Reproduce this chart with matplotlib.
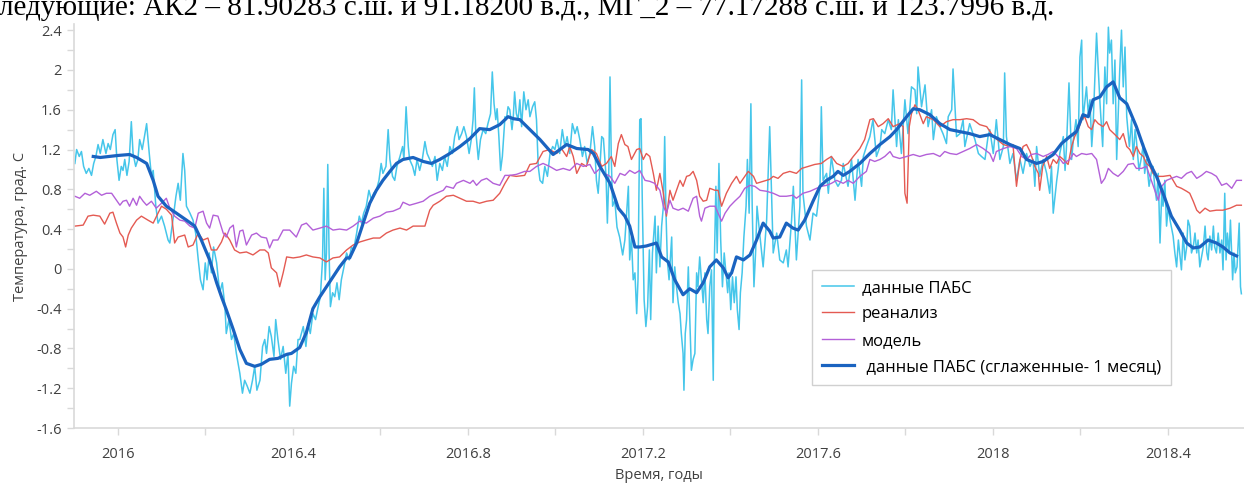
import matplotlib
matplotlib.use("Agg")
import matplotlib.pyplot as plt
from matplotlib.ticker import MultipleLocator, FuncFormatter

plt.rcParams['font.family'] = ['Open Sans', 'DejaVu Sans']
plt.rcParams['axes.unicode_minus'] = False

# (year, temperature)
pabs = [
    (2015.902, 1.06), (2015.906, 1.20), (2015.912, 1.13), (2015.917, 1.18), (2015.922, 1.03), (2015.928, 0.96),
    (2015.934, 1.01), (2015.940, 0.94), (2015.945, 1.06), (2015.950, 1.13), (2015.955, 1.25), (2015.960, 1.16),
    (2015.966, 1.30), (2015.973, 1.16), (2015.978, 1.26), (2015.983, 1.20), (2015.989, 1.35), (2015.994, 1.40),
    (2015.998, 1.10), (2016.003, 0.89), (2016.008, 1.03), (2016.012, 0.99), (2016.016, 1.10), (2016.021, 0.94),
    (2016.026, 1.08), (2016.031, 1.48), (2016.035, 1.16), (2016.041, 1.03), (2016.046, 1.10), (2016.050, 1.30),
    (2016.056, 1.20), (2016.062, 1.36), (2016.066, 1.46), (2016.072, 1.16), (2016.077, 0.93), (2016.081, 0.99),
    (2016.087, 0.63), (2016.092, 0.46), (2016.100, 0.53), (2016.107, 0.43), (2016.111, 0.36), (2016.115, 0.29),
    (2016.119, 0.26), (2016.126, 0.49), (2016.133, 0.73), (2016.138, 0.86), (2016.143, 0.69), (2016.149, 1.16),
    (2016.153, 0.99), (2016.157, 0.63), (2016.165, 0.56), (2016.172, 0.49), (2016.178, 0.36), (2016.184, 0.09),
    (2016.189, -0.11), (2016.195, -0.21), (2016.200, 0.06), (2016.204, -0.11), (2016.209, 0.16), (2016.214, -0.04),
    (2016.219, 0.22), (2016.226, 0.06), (2016.233, -0.24), (2016.239, -0.14), (2016.245, -0.38), (2016.248, -0.65),
    (2016.254, -0.51), (2016.260, -0.71), (2016.265, -0.65), (2016.271, -0.85), (2016.279, -1.05), (2016.285, -1.25),
    (2016.290, -1.12), (2016.296, -1.18), (2016.302, -1.25), (2016.308, -1.12), (2016.313, -0.98), (2016.318, -1.22),
    (2016.325, -1.12), (2016.331, -0.78), (2016.336, -0.71), (2016.340, -0.85), (2016.346, -0.58), (2016.351, -0.68),
    (2016.357, -0.88), (2016.361, -0.51), (2016.366, -0.71), (2016.372, -0.91), (2016.378, -0.78), (2016.384, -1.05),
    (2016.389, -0.85), (2016.393, -1.38), (2016.397, -1.15), (2016.402, -0.98), (2016.407, -1.05), (2016.412, -0.71),
    (2016.416, -0.71), (2016.424, -0.58), (2016.430, -0.78), (2016.435, -0.55), (2016.440, -0.65), (2016.446, -0.45),
    (2016.452, -0.51), (2016.458, -0.38), (2016.463, -0.28), (2016.468, 0.09), (2016.471, 0.81), (2016.474, -0.11),
    (2016.477, 0.16), (2016.480, 1.05), (2016.483, 0.16), (2016.486, -0.38), (2016.491, -0.24), (2016.496, -0.28),
    (2016.501, -0.14), (2016.506, -0.31), (2016.511, -0.11), (2016.517, 0.02), (2016.523, 0.16), (2016.529, 0.09),
    (2016.534, 0.22), (2016.539, 0.19), (2016.546, 0.36), (2016.552, 0.53), (2016.557, 0.46), (2016.562, 0.56),
    (2016.568, 0.63), (2016.574, 0.79), (2016.580, 0.69), (2016.585, 0.76), (2016.591, 0.79), (2016.597, 0.89),
    (2016.602, 1.06), (2016.606, 0.96), (2016.613, 1.03), (2016.618, 1.40), (2016.622, 1.10), (2016.628, 0.93),
    (2016.633, 0.89), (2016.638, 1.03), (2016.645, 1.13), (2016.651, 1.23), (2016.654, 1.10), (2016.659, 1.63),
    (2016.664, 1.23), (2016.667, 1.10), (2016.674, 1.03), (2016.679, 0.94), (2016.684, 1.10), (2016.690, 0.99),
    (2016.696, 1.10), (2016.702, 1.28), (2016.707, 1.16), (2016.713, 1.10), (2016.719, 1.03), (2016.725, 1.13),
    (2016.730, 0.89), (2016.736, 1.06), (2016.742, 0.99), (2016.747, 1.13), (2016.753, 1.03), (2016.759, 1.23),
    (2016.765, 1.16), (2016.770, 1.33), (2016.776, 1.43), (2016.780, 1.30), (2016.786, 1.36), (2016.791, 1.43),
    (2016.797, 1.33), (2016.803, 1.16), (2016.808, 1.30), (2016.812, 1.50), (2016.815, 1.82), (2016.818, 1.40),
    (2016.824, 1.10), (2016.829, 1.30), (2016.835, 1.40), (2016.841, 1.36), (2016.846, 1.46), (2016.852, 1.56),
    (2016.856, 1.98), (2016.860, 1.66), (2016.864, 1.50), (2016.867, 1.61), (2016.871, 1.33), (2016.875, 0.99),
    (2016.879, 1.13), (2016.885, 1.53), (2016.888, 1.50), (2016.892, 1.63), (2016.896, 1.60), (2016.901, 1.40),
    (2016.904, 1.53), (2016.907, 1.78), (2016.911, 1.56), (2016.915, 1.50), (2016.919, 1.70), (2016.923, 1.43),
    (2016.928, 1.78), (2016.933, 1.60), (2016.938, 1.70),
    (2016.942, 1.53), (2016.948, 1.63), (2016.953, 1.68), (2016.957, 1.50), (2016.961, 1.03), (2016.965, 0.89),
    (2016.971, 0.86), (2016.976, 1.03), (2016.982, 0.93), (2016.988, 1.16), (2016.994, 1.23), (2016.999, 1.20),
    (2017.004, 1.30), (2017.010, 1.16), (2017.016, 1.40), (2017.022, 1.23), (2017.027, 1.33), (2017.033, 1.16),
    (2017.039, 1.46), (2017.045, 1.36), (2017.050, 1.43), (2017.056, 1.30), (2017.062, 1.13), (2017.067, 1.23),
    (2017.073, 1.06), (2017.079, 1.16), (2017.085, 1.43), (2017.090, 1.23), (2017.094, 0.89), (2017.098, 0.76),
    (2017.102, 1.03), (2017.106, 1.33), (2017.110, 1.31), (2017.116, 0.93), (2017.119, 0.46), (2017.122, 0.89),
    (2017.125, 1.93), (2017.128, 1.10), (2017.131, 0.63), (2017.136, 0.69), (2017.141, 0.42), (2017.147, 0.32),
    (2017.154, 0.14), (2017.159, 0.29), (2017.164, 0.63), (2017.167, 0.83), (2017.170, 0.09), (2017.174, 0.32),
    (2017.178, -0.11), (2017.182, -0.04), (2017.186, -0.45), (2017.189, -0.11), (2017.193, 1.50), (2017.196, 1.51),
    (2017.199, 0.63), (2017.203, -0.31), (2017.207, -0.58), (2017.211, -0.38), (2017.215, 0.19), (2017.218, -0.51),
    (2017.222, 0.16), (2017.228, 0.53), (2017.231, -0.04), (2017.235, 0.43), (2017.239, 0.02), (2017.243, 0.43),
    (2017.247, 0.63), (2017.250, 1.33), (2017.253, 0.56), (2017.256, 0.09), (2017.260, -0.11), (2017.266, 0.32),
    (2017.269, -0.34), (2017.273, 0.02), (2017.277, -0.18), (2017.281, -0.34), (2017.285, -0.45), (2017.288, -0.65),
    (2017.292, -0.85), (2017.294, -1.22), (2017.297, -0.65), (2017.300, -0.51), (2017.304, 0.02), (2017.307, -0.45),
    (2017.311, -1.02), (2017.315, -0.91), (2017.319, -0.85), (2017.323, -0.04), (2017.326, -0.18), (2017.330, 0.12),
    (2017.334, -0.11), (2017.338, -0.34), (2017.342, -0.04), (2017.346, -0.51), (2017.349, -0.65), (2017.353, -0.18),
    (2017.357, -0.01), (2017.361, -1.12), (2017.363, -0.04), (2017.367, 0.83), (2017.370, 0.16), (2017.374, 1.06),
    (2017.378, 0.29), (2017.382, -0.18), (2017.386, 0.16), (2017.390, -0.04), (2017.394, -0.24), (2017.397, -0.04),
    (2017.401, -0.41), (2017.405, -0.08), (2017.409, -0.34), (2017.413, -0.08), (2017.416, -0.41), (2017.420, -0.61),
    (2017.423, -0.24), (2017.427, -0.04), (2017.431, 0.32), (2017.436, 0.63), (2017.439, 1.10), (2017.443, 0.56),
    (2017.447, 1.66), (2017.450, 0.63), (2017.454, -0.18), (2017.458, 0.19), (2017.461, 0.63),
    (2017.467, 0.36), (2017.475, 0.02), (2017.483, 0.49), (2017.490, 1.43), (2017.498, 0.16), (2017.506, 0.36),
    (2017.513, 0.09), (2017.521, 0.06), (2017.528, 0.19), (2017.532, 0.02), (2017.540, 0.49), (2017.544, 0.83),
    (2017.551, 0.09), (2017.559, 0.63), (2017.563, 1.90), (2017.566, 0.76), (2017.574, 0.43), (2017.582, 0.29),
    (2017.589, 0.56), (2017.597, 0.53), (2017.605, 0.83), (2017.608, 1.63), (2017.612, 0.89), (2017.620, 0.96),
    (2017.624, 0.76), (2017.631, 1.13), (2017.639, 0.89), (2017.646, 0.83), (2017.654, 0.89), (2017.658, 1.06),
    (2017.669, 0.83), (2017.677, 1.10), (2017.685, 0.69), (2017.692, 1.10), (2017.700, 0.83), (2017.704, 1.13),
    (2017.711, 1.23), (2017.719, 1.33), (2017.726, 1.50), (2017.734, 1.13), (2017.742, 1.23), (2017.746, 1.40),
    (2017.753, 1.36), (2017.761, 1.50), (2017.768, 1.40), (2017.772, 1.80), (2017.780, 1.23), (2017.784, 1.50),
    (2017.791, 1.16), (2017.799, 1.70), (2017.806, 1.36), (2017.814, 1.83), (2017.822, 1.80), (2017.826, 1.56),
    (2017.829, 2.03), (2017.837, 1.63), (2017.845, 1.85), (2017.852, 1.43), (2017.860, 1.60), (2017.864, 1.30),
    (2017.871, 1.53), (2017.879, 1.43), (2017.886, 1.36), (2017.894, 1.26), (2017.898, 1.53), (2017.906, 1.60),
    (2017.909, 2.01), (2017.917, 1.33), (2017.925, 1.36), (2017.932, 1.50), (2017.936, 1.23), (2017.947, 1.46),
    (2017.959, 1.30), (2017.967, 1.16), (2017.974, 1.13), (2017.982, 1.10), (2017.989, 1.33),
    (2017.993, 1.40), (2018.001, 1.16), (2018.008, 1.50), (2018.016, 1.10), (2018.024, 1.23), (2018.027, 1.97),
    (2018.031, 1.33), (2018.039, 1.06), (2018.046, 1.16), (2018.054, 0.89), (2018.062, 1.10), (2018.069, 0.96),
    (2018.077, 1.16), (2018.085, 1.03), (2018.092, 1.10), (2018.096, 0.83), (2018.100, 1.23), (2018.107, 0.93),
    (2018.115, 1.10), (2018.123, 0.96), (2018.130, 0.76), (2018.134, 1.03), (2018.138, 0.56), (2018.146, 0.89),
    (2018.149, 0.99), (2018.153, 1.16), (2018.161, 1.33), (2018.165, 0.99), (2018.168, 1.20), (2018.174, 1.87),
    (2018.180, 1.10), (2018.184, 1.30), (2018.190, 1.50), (2018.195, 1.23), (2018.199, 2.13), (2018.203, 2.30),
    (2018.206, 1.50), (2018.214, 1.83), (2018.218, 1.56), (2018.222, 1.70), (2018.226, 1.23), (2018.229, 1.43),
    (2018.237, 2.37), (2018.241, 2.00), (2018.245, 1.66), (2018.251, 1.23), (2018.256, 2.03), (2018.260, 1.66),
    (2018.264, 2.43), (2018.267, 2.17), (2018.271, 2.30), (2018.275, 1.66), (2018.279, 2.10), (2018.283, 1.10),
    (2018.286, 1.50), (2018.290, 2.00), (2018.294, 2.40), (2018.298, 1.83), (2018.302, 2.23), (2018.306, 1.53),
    (2018.312, 1.23), (2018.317, 1.50), (2018.321, 1.10), (2018.325, 1.40), (2018.328, 1.30), (2018.334, 0.99),
    (2018.340, 1.13), (2018.344, 1.26), (2018.347, 0.96), (2018.351, 1.10), (2018.357, 0.83), (2018.363, 0.99),
    (2018.366, 1.03), (2018.370, 0.83), (2018.374, 0.69), (2018.378, 0.96), (2018.382, 0.26), (2018.386, 0.76),
    (2018.389, 0.63), (2018.393, 0.89), (2018.397, 0.43), (2018.401, 0.63), (2018.405, 0.49), (2018.412, 0.33),
    (2018.416, 0.16), (2018.420, 0.02), (2018.424, 0.29), (2018.427, 0.16), (2018.431, -0.01), (2018.435, 0.36),
    (2018.439, 0.09), (2018.443, 0.22), (2018.446, 0.49), (2018.450, 0.43), (2018.454, 0.16), (2018.458, 0.22),
    (2018.462, 0.36), (2018.466, 0.16), (2018.469, 0.29), (2018.473, 0.02), (2018.481, 0.22), (2018.485, 0.43),
    (2018.489, 0.16), (2018.492, 0.09), (2018.496, 0.33), (2018.500, 0.19), (2018.504, 0.43), (2018.507, 0.22),
    (2018.511, 0.16), (2018.515, 0.36), (2018.519, 0.16), (2018.523, 0.29), (2018.526, -0.01), (2018.530, 0.76),
    (2018.533, 0.09), (2018.536, 0.36), (2018.540, 0.16), (2018.543, 0.49), (2018.548, -0.11), (2018.551, 0.16),
    (2018.554, -0.04), (2018.558, 0.02), (2018.563, 0.46), (2018.566, -0.18), (2018.568, -0.25),
]

reanalysis = [
    (2015.902, 0.43), (2015.921, 0.44), (2015.932, 0.53), (2015.944, 0.54), (2015.959, 0.53), (2015.970, 0.45),
    (2015.982, 0.56), (2015.989, 0.57), (2015.997, 0.46), (2016.005, 0.36), (2016.012, 0.32), (2016.018, 0.22),
    (2016.024, 0.34), (2016.031, 0.41), (2016.043, 0.49), (2016.054, 0.53), (2016.069, 0.49), (2016.081, 0.46),
    (2016.092, 0.56), (2016.100, 0.63), (2016.111, 0.60), (2016.123, 0.54), (2016.130, 0.26), (2016.138, 0.32),
    (2016.153, 0.34), (2016.161, 0.22), (2016.172, 0.24), (2016.184, 0.36), (2016.195, 0.29), (2016.206, 0.31),
    (2016.214, 0.19), (2016.226, 0.19), (2016.237, 0.27), (2016.245, 0.36), (2016.256, 0.29), (2016.267, 0.19),
    (2016.279, 0.16), (2016.294, 0.17), (2016.309, 0.14), (2016.325, 0.19), (2016.336, 0.19), (2016.344, 0.16),
    (2016.351, 0.01), (2016.363, -0.04), (2016.370, -0.18), (2016.378, -0.04), (2016.386, 0.12), (2016.401, 0.11),
    (2016.416, 0.12), (2016.431, 0.14), (2016.446, 0.12), (2016.462, 0.11), (2016.477, 0.07), (2016.492, 0.11),
    (2016.507, 0.12), (2016.523, 0.19), (2016.538, 0.24), (2016.553, 0.27), (2016.568, 0.29), (2016.584, 0.31),
    (2016.599, 0.31), (2016.614, 0.36), (2016.629, 0.39), (2016.645, 0.41), (2016.660, 0.39), (2016.675, 0.43),
    (2016.690, 0.43), (2016.702, 0.43), (2016.713, 0.59), (2016.721, 0.64), (2016.736, 0.68), (2016.751, 0.73),
    (2016.767, 0.74), (2016.782, 0.71), (2016.797, 0.68), (2016.812, 0.68), (2016.827, 0.66), (2016.843, 0.68),
    (2016.858, 0.69), (2016.873, 0.76), (2016.885, 0.86), (2016.896, 0.94), (2016.911, 0.93), (2016.930, 0.94),
    (2016.942, 1.05), (2016.957, 1.06), (2016.972, 1.18), (2016.987, 1.20), (2017.003, 1.16), (2017.014, 1.21),
    (2017.026, 1.13), (2017.033, 1.23), (2017.041, 1.13), (2017.049, 0.96), (2017.060, 1.06), (2017.071, 1.03),
    (2017.083, 1.20), (2017.094, 1.16), (2017.106, 1.03), (2017.117, 1.06), (2017.128, 1.13), (2017.136, 1.03),
    (2017.144, 1.26), (2017.151, 1.35), (2017.159, 1.25), (2017.166, 1.23), (2017.174, 1.10), (2017.186, 1.20),
    (2017.193, 1.21), (2017.201, 1.10), (2017.208, 1.16), (2017.216, 1.13), (2017.224, 0.96), (2017.231, 0.79),
    (2017.239, 0.96), (2017.247, 0.76), (2017.254, 0.53), (2017.262, 0.79), (2017.269, 0.69), (2017.277, 0.79),
    (2017.285, 0.89), (2017.292, 0.83), (2017.300, 0.93), (2017.307, 0.94), (2017.315, 0.98), (2017.323, 0.89),
    (2017.330, 0.73), (2017.338, 0.68), (2017.346, 0.69), (2017.353, 0.81), (2017.365, 0.79), (2017.372, 0.79),
    (2017.380, 0.63), (2017.391, 0.76), (2017.403, 0.86), (2017.414, 0.93), (2017.422, 0.86), (2017.430, 0.91),
    (2017.441, 0.98), (2017.453, 0.93), (2017.460, 0.86), (2017.475, 0.88), (2017.490, 0.90),
    (2017.498, 0.93), (2017.509, 0.91), (2017.521, 0.96), (2017.536, 0.98), (2017.551, 0.96), (2017.563, 1.01),
    (2017.578, 1.03), (2017.593, 1.05), (2017.608, 1.06), (2017.620, 1.10), (2017.631, 1.13), (2017.643, 1.06),
    (2017.658, 1.03), (2017.669, 1.06), (2017.681, 1.13), (2017.696, 1.21), (2017.707, 1.30), (2017.719, 1.50),
    (2017.727, 1.51), (2017.738, 1.43), (2017.749, 1.46), (2017.761, 1.51), (2017.772, 1.43), (2017.787, 1.46),
    (2017.795, 1.43), (2017.799, 0.76), (2017.804, 0.66), (2017.809, 1.43), (2017.814, 1.56), (2017.822, 1.65),
    (2017.829, 1.60), (2017.841, 1.46), (2017.848, 1.53), (2017.864, 1.50), (2017.879, 1.43), (2017.894, 1.48),
    (2017.909, 1.50), (2017.925, 1.50), (2017.940, 1.51), (2017.955, 1.50), (2017.970, 1.45), (2017.986, 1.43),
    (2018.001, 1.33), (2018.024, 1.25), (2018.039, 1.23), (2018.046, 1.25), (2018.054, 0.83), (2018.062, 1.10),
    (2018.069, 1.23), (2018.077, 1.25), (2018.085, 1.18), (2018.096, 1.03), (2018.104, 0.96), (2018.107, 0.79),
    (2018.114, 1.03), (2018.123, 1.13), (2018.130, 1.01), (2018.138, 1.10), (2018.146, 1.06), (2018.153, 1.13),
    (2018.161, 1.10), (2018.172, 1.05), (2018.180, 1.23), (2018.187, 1.33), (2018.195, 1.40), (2018.203, 1.50),
    (2018.210, 1.53), (2018.218, 1.43), (2018.226, 1.40), (2018.233, 1.50), (2018.241, 1.46), (2018.252, 1.43),
    (2018.260, 1.48), (2018.267, 1.40), (2018.279, 1.35), (2018.290, 1.30), (2018.298, 1.36), (2018.306, 1.23),
    (2018.313, 1.20), (2018.321, 1.13), (2018.328, 1.23), (2018.336, 1.16), (2018.344, 1.13), (2018.351, 1.06),
    (2018.359, 1.03), (2018.366, 0.96), (2018.374, 0.93), (2018.389, 0.93), (2018.405, 0.94), (2018.412, 0.89),
    (2018.420, 0.83), (2018.431, 0.81), (2018.443, 0.78), (2018.450, 0.76), (2018.458, 0.68), (2018.466, 0.59),
    (2018.473, 0.56), (2018.485, 0.61), (2018.496, 0.58), (2018.511, 0.59), (2018.526, 0.59), (2018.542, 0.61),
    (2018.557, 0.64), (2018.568, 0.64),
]

model = [
    (2015.902, 0.73), (2015.913, 0.71), (2015.925, 0.76), (2015.936, 0.74), (2015.951, 0.78), (2015.963, 0.74),
    (2015.974, 0.76), (2015.986, 0.76), (2015.997, 0.69), (2016.005, 0.64), (2016.012, 0.68), (2016.020, 0.69),
    (2016.027, 0.63), (2016.035, 0.71), (2016.043, 0.64), (2016.050, 0.73), (2016.058, 0.68), (2016.066, 0.64),
    (2016.077, 0.68), (2016.088, 0.61), (2016.100, 0.66), (2016.111, 0.71), (2016.119, 0.61), (2016.130, 0.53),
    (2016.142, 0.49), (2016.153, 0.48), (2016.165, 0.43), (2016.176, 0.41), (2016.184, 0.56), (2016.195, 0.58),
    (2016.203, 0.46), (2016.210, 0.41), (2016.218, 0.54), (2016.229, 0.53), (2016.241, 0.36), (2016.248, 0.32),
    (2016.256, 0.41), (2016.264, 0.44), (2016.271, 0.22), (2016.279, 0.38), (2016.286, 0.39), (2016.294, 0.24),
    (2016.306, 0.34), (2016.317, 0.36), (2016.328, 0.32), (2016.340, 0.31), (2016.347, 0.21), (2016.355, 0.29),
    (2016.366, 0.29), (2016.378, 0.39), (2016.393, 0.39), (2016.408, 0.32), (2016.420, 0.44), (2016.431, 0.46),
    (2016.446, 0.39), (2016.462, 0.41), (2016.477, 0.43), (2016.492, 0.39), (2016.507, 0.40), (2016.523, 0.39),
    (2016.538, 0.43), (2016.553, 0.48), (2016.568, 0.46), (2016.584, 0.51), (2016.599, 0.53), (2016.614, 0.57),
    (2016.629, 0.58), (2016.645, 0.61), (2016.652, 0.67), (2016.667, 0.64), (2016.683, 0.66), (2016.698, 0.68),
    (2016.713, 0.73), (2016.728, 0.76), (2016.744, 0.79), (2016.751, 0.83), (2016.767, 0.81), (2016.774, 0.86),
    (2016.790, 0.89), (2016.805, 0.86), (2016.812, 0.89), (2016.820, 0.84), (2016.831, 0.89), (2016.843, 0.91),
    (2016.858, 0.86), (2016.873, 0.84), (2016.885, 0.94), (2016.896, 0.94), (2016.911, 0.95), (2016.930, 0.98),
    (2016.942, 0.98), (2016.957, 1.03), (2016.972, 1.06), (2016.987, 1.03), (2017.003, 0.99), (2017.018, 1.01),
    (2017.033, 0.99), (2017.049, 1.06), (2017.064, 1.03), (2017.079, 1.05), (2017.090, 0.96), (2017.102, 1.01),
    (2017.113, 0.96), (2017.125, 0.93), (2017.136, 0.86), (2017.148, 0.96), (2017.159, 0.94), (2017.170, 0.99),
    (2017.182, 0.96), (2017.193, 0.99), (2017.205, 0.89), (2017.216, 0.88), (2017.227, 0.86), (2017.239, 0.79),
    (2017.247, 0.63), (2017.254, 0.56), (2017.262, 0.69), (2017.269, 0.61), (2017.281, 0.59), (2017.292, 0.61),
    (2017.304, 0.58), (2017.315, 0.71), (2017.323, 0.73), (2017.330, 0.53), (2017.334, 0.48), (2017.342, 0.61),
    (2017.353, 0.63), (2017.365, 0.63), (2017.372, 0.56), (2017.380, 0.48), (2017.388, 0.56), (2017.399, 0.63),
    (2017.410, 0.68), (2017.422, 0.73), (2017.433, 0.81), (2017.445, 0.84), (2017.456, 0.83), (2017.468, 0.79),
    (2017.483, 0.78), (2017.498, 0.76), (2017.513, 0.73), (2017.528, 0.73), (2017.543, 0.74), (2017.551, 0.71),
    (2017.566, 0.76), (2017.582, 0.78), (2017.597, 0.81), (2017.608, 0.83), (2017.620, 0.84), (2017.631, 0.86),
    (2017.643, 0.89), (2017.658, 0.86), (2017.669, 0.89), (2017.681, 0.86), (2017.696, 0.93), (2017.711, 0.98),
    (2017.719, 1.10), (2017.730, 1.08), (2017.742, 1.10), (2017.753, 1.13), (2017.765, 1.18), (2017.772, 1.13),
    (2017.787, 1.11), (2017.803, 1.13), (2017.818, 1.15), (2017.833, 1.13), (2017.848, 1.15), (2017.864, 1.16),
    (2017.879, 1.13), (2017.890, 1.18), (2017.902, 1.16), (2017.917, 1.15), (2017.932, 1.18), (2017.947, 1.21),
    (2017.963, 1.25), (2017.978, 1.21), (2017.993, 1.16), (2018.001, 1.08), (2018.008, 1.18), (2018.024, 1.21),
    (2018.039, 1.23), (2018.054, 1.21), (2018.066, 1.13), (2018.077, 1.10), (2018.088, 1.15), (2018.100, 1.16),
    (2018.115, 1.13), (2018.126, 1.15), (2018.138, 1.18), (2018.149, 1.13), (2018.161, 1.06), (2018.176, 1.10),
    (2018.184, 1.16), (2018.191, 1.13), (2018.203, 1.16), (2018.214, 1.15), (2018.226, 1.16), (2018.237, 1.10),
    (2018.248, 0.86), (2018.256, 0.91), (2018.264, 1.01), (2018.275, 0.96), (2018.286, 0.93), (2018.298, 0.98),
    (2018.309, 1.05), (2018.321, 1.06), (2018.328, 1.01), (2018.340, 1.01), (2018.351, 1.03), (2018.359, 0.93),
    (2018.370, 0.79), (2018.378, 0.69), (2018.386, 0.83), (2018.397, 0.89), (2018.408, 0.91), (2018.420, 0.93),
    (2018.431, 0.91), (2018.443, 0.96), (2018.454, 0.98), (2018.466, 0.91), (2018.477, 0.94), (2018.488, 0.98),
    (2018.500, 0.96), (2018.511, 0.93), (2018.523, 0.84), (2018.534, 0.86), (2018.546, 0.81), (2018.557, 0.89),
    (2018.568, 0.89),
]

pabs_smooth = [
    (2015.944, 1.13), (2015.960, 1.12), (2015.980, 1.13), (2016.000, 1.14), (2016.027, 1.15), (2016.043, 1.12),
    (2016.066, 1.06), (2016.081, 0.89), (2016.092, 0.73), (2016.111, 0.63), (2016.134, 0.56), (2016.157, 0.49),
    (2016.176, 0.43), (2016.191, 0.29), (2016.210, 0.09), (2016.226, -0.14), (2016.237, -0.28), (2016.248, -0.41),
    (2016.264, -0.61), (2016.279, -0.81), (2016.294, -0.95), (2016.313, -0.98), (2016.328, -0.96), (2016.347, -0.91),
    (2016.366, -0.90), (2016.386, -0.86), (2016.397, -0.85), (2016.416, -0.79), (2016.431, -0.64), (2016.446, -0.40),
    (2016.462, -0.28), (2016.477, -0.18), (2016.492, -0.08), (2016.507, 0.02), (2016.523, 0.11), (2016.530, 0.11),
    (2016.546, 0.26), (2016.561, 0.46), (2016.576, 0.66), (2016.591, 0.79), (2016.606, 0.89), (2016.622, 0.98),
    (2016.637, 1.06), (2016.652, 1.10), (2016.675, 1.12), (2016.698, 1.08), (2016.717, 1.06), (2016.736, 1.10),
    (2016.759, 1.16), (2016.782, 1.23), (2016.805, 1.31), (2016.827, 1.41), (2016.850, 1.40), (2016.873, 1.45),
    (2016.892, 1.53), (2016.904, 1.51), (2016.919, 1.50), (2016.942, 1.40), (2016.965, 1.30), (2016.995, 1.15),
    (2017.026, 1.25), (2017.049, 1.21), (2017.075, 1.20), (2017.087, 1.16), (2017.102, 1.03), (2017.125, 0.86),
    (2017.144, 0.61), (2017.159, 0.53), (2017.170, 0.43), (2017.182, 0.22), (2017.193, 0.22), (2017.208, 0.23),
    (2017.231, 0.26), (2017.243, 0.12), (2017.258, 0.07), (2017.273, -0.11), (2017.292, -0.26), (2017.307, -0.20),
    (2017.323, -0.24), (2017.338, -0.14), (2017.353, 0.02), (2017.368, 0.09), (2017.384, 0.01), (2017.395, -0.09),
    (2017.403, -0.04), (2017.414, 0.12), (2017.430, 0.09), (2017.445, 0.14), (2017.460, 0.29), (2017.475, 0.46),
    (2017.490, 0.38), (2017.498, 0.31), (2017.513, 0.32), (2017.528, 0.46), (2017.543, 0.41), (2017.555, 0.39),
    (2017.570, 0.49), (2017.589, 0.68), (2017.605, 0.83), (2017.620, 0.89), (2017.635, 0.93), (2017.646, 0.98),
    (2017.658, 0.94), (2017.673, 0.98), (2017.696, 1.06), (2017.719, 1.16), (2017.742, 1.25), (2017.765, 1.33),
    (2017.780, 1.40), (2017.803, 1.53), (2017.818, 1.61), (2017.833, 1.60), (2017.856, 1.55), (2017.879, 1.46),
    (2017.902, 1.40), (2017.925, 1.38), (2017.947, 1.36), (2017.970, 1.33), (2017.993, 1.35), (2018.016, 1.30),
    (2018.039, 1.25), (2018.062, 1.21), (2018.077, 1.10), (2018.100, 1.06), (2018.115, 1.08), (2018.138, 1.15),
    (2018.157, 1.26), (2018.176, 1.33), (2018.191, 1.38), (2018.206, 1.55), (2018.218, 1.53), (2018.229, 1.70),
    (2018.245, 1.73), (2018.260, 1.83), (2018.275, 1.88), (2018.290, 1.72), (2018.306, 1.66), (2018.328, 1.43),
    (2018.344, 1.23), (2018.359, 1.06), (2018.374, 0.93), (2018.389, 0.76), (2018.408, 0.53), (2018.427, 0.39),
    (2018.443, 0.26), (2018.458, 0.21), (2018.473, 0.22), (2018.492, 0.29), (2018.511, 0.26), (2018.526, 0.22),
    (2018.542, 0.16), (2018.557, 0.13),
]

series_labels = ['данные ПАБС', 'реанализ', 'модель', ' данные ПАБС (сглаженные- 1 месяц)']
series_colors = ['#45c6ea', '#e45a52', '#b360d8', '#1a63c0']

fig = plt.figure(figsize=(12.44, 4.83), dpi=100)
ax = fig.add_axes([74 / 1244, 55 / 483, 1170 / 1244, 403.8 / 483])

for data, lab, col, lw in zip([pabs, reanalysis, model, pabs_smooth], series_labels, series_colors,
                              [1.1, 1.0, 1.0, 2.3]):
    t, v = zip(*data)
    ax.plot(t, v, color=col, lw=lw, label=lab)

ax.set_xlim(2015.9, 2018.574)
ax.set_ylim(-1.6, 2.46)

ax.xaxis.set_major_locator(MultipleLocator(0.4))
ax.xaxis.set_minor_locator(MultipleLocator(0.2))
ax.yaxis.set_major_locator(MultipleLocator(0.4))
ax.yaxis.set_minor_locator(MultipleLocator(0.2))
fmt = FuncFormatter(lambda x, p: f'{x:g}')
ax.xaxis.set_major_formatter(fmt)
ax.yaxis.set_major_formatter(fmt)

for s in ['top', 'right']:
    ax.spines[s].set_visible(False)
for s in ['left', 'bottom']:
    ax.spines[s].set_color('#d9d9d9')
    ax.spines[s].set_linewidth(1.2)

ax.tick_params(which='both', direction='out', length=5, width=1, color='#d9d9d9')
ax.tick_params(axis='x', which='major', pad=9, labelsize=10.5, labelcolor='#404040')
ax.tick_params(axis='y', which='major', pad=4, labelsize=10.5, labelcolor='#404040')

ax.set_xlabel('Время, годы', fontsize=10.5, color='#404040', labelpad=4)
ax.set_ylabel('Температура, град. С', fontsize=10.5, color='#404040', labelpad=6)

leg = ax.legend(loc='upper left', bbox_to_anchor=(0.6308, 0.3913), borderaxespad=0,
                fontsize=12, frameon=True, fancybox=False, framealpha=1, edgecolor='#d0d0d0',
                handlelength=1.9, handletextpad=0.5, labelspacing=0.62, borderpad=0.6)
leg.get_frame().set_linewidth(1.0)

fig.text(-0.0115, 1 - 15 / 483,
         'следующие: АК2 – 81.90283 с.ш. и 91.18200 в.д., МГ_2 – 77.17288 с.ш. и 123.7996 в.д.',
         fontfamily=['Liberation Serif', 'DejaVu Serif'], fontsize=21, va='baseline', ha='left')

fig.savefig('out.png', dpi=100)
